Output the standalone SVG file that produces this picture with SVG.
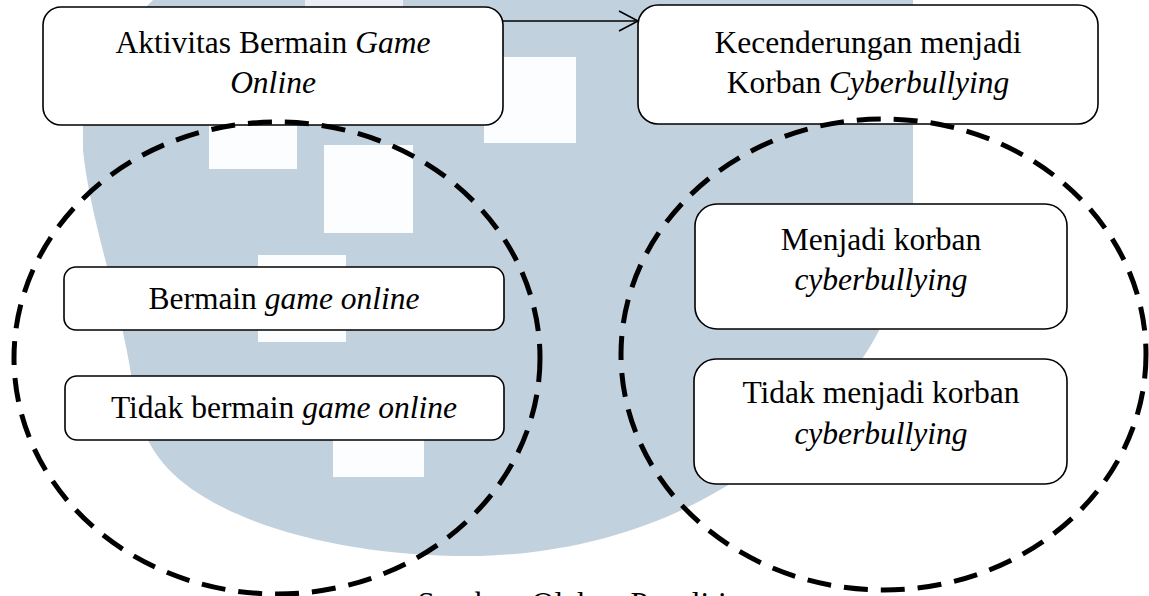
<svg xmlns="http://www.w3.org/2000/svg" width="1149" height="596" viewBox="0 0 1149 596">
  <style>
    .box { fill: #ffffff; stroke: #000000; stroke-width: 1.6; }
    .lbl { font-family: "Liberation Serif", "Times New Roman", serif; font-size: 31.5px; fill: #000000; text-anchor: middle; }
    .it { font-style: italic; }
    .ring { fill: none; stroke: #000000; stroke-width: 5; stroke-dasharray: 24 13; }
    .mark { fill: #c2d1de; }
    .pix { fill: #fcfdfe; }
    .link { fill: none; stroke: #000000; stroke-width: 1.6; }
  </style>
  <defs>
    <marker id="openArrow" markerUnits="userSpaceOnUse" viewBox="0 0 22 22" refX="20" refY="11" markerWidth="22" markerHeight="22" orient="auto">
      <path d="M1,1 L20,11 L1,21" fill="none" stroke="#000000" stroke-width="1.6"/>
    </marker>
  </defs>

  <rect width="1149" height="596" fill="#ffffff"/>

  <!-- background emblem -->
  <g id="emblem">
    <path class="mark" d="M153 0 L913 0 L913 205 C910 290 870 370 790 440 C720 500 620 552 480 556 C360 558 240 530 180 480 C145 450 138 420 132 380 C120 300 90 220 83 150 L83 70 Z"/>
    <rect x="305" y="0" width="98" height="8" fill="#e9eff4"/>
    <rect class="pix" x="484" y="57" width="92" height="86"/>
    <rect class="pix" x="209" y="118" width="88" height="51"/>
    <rect class="pix" x="324" y="145" width="89" height="88"/>
    <rect class="pix" x="258" y="255" width="88" height="87"/>
    <rect class="pix" x="333" y="430" width="91" height="47"/>
  </g>

  <!-- top-level nodes -->
  <g id="node-aktivitas">
    <rect class="box" x="43" y="7" width="460" height="118" rx="18"/>
    <text class="lbl" x="273" y="53">Aktivitas Bermain <tspan class="it">Game</tspan></text>
    <text class="lbl it" x="273" y="93">Online</text>
  </g>
  <g id="node-kecenderungan">
    <rect class="box" x="638" y="5" width="460" height="119" rx="20"/>
    <text class="lbl" x="868" y="53">Kecenderungan menjadi</text>
    <text class="lbl" x="868" y="93">Korban <tspan class="it">Cyberbullying</tspan></text>
  </g>

  <!-- connectors -->
  <g id="connectors">
    <line class="link" x1="503" y1="21" x2="638" y2="21" marker-end="url(#openArrow)"/>
  </g>

  <!-- dashed groupings -->
  <g id="group-aktivitas">
    <ellipse class="ring" cx="277" cy="358" rx="263" ry="236"/>
  </g>
  <g id="group-korban">
    <ellipse class="ring" cx="883.5" cy="354.5" rx="262.5" ry="235.5"/>
  </g>

  <!-- category nodes -->
  <g id="node-bermain">
    <rect class="box" x="64" y="267" width="440" height="63" rx="12"/>
    <text class="lbl" x="284" y="309">Bermain <tspan class="it">game online</tspan></text>
  </g>
  <g id="node-tidak-bermain">
    <rect class="box" x="65" y="376" width="439" height="64" rx="12"/>
    <text class="lbl" x="284" y="418">Tidak bermain <tspan class="it">game online</tspan></text>
  </g>
  <g id="node-menjadi-korban">
    <rect class="box" x="695" y="204" width="372" height="125" rx="22"/>
    <text class="lbl" x="881" y="250">Menjadi korban</text>
    <text class="lbl it" x="881" y="290">cyberbullying</text>
  </g>
  <g id="node-tidak-menjadi-korban">
    <rect class="box" x="694" y="359" width="373" height="125" rx="22"/>
    <text class="lbl" x="881" y="403">Tidak menjadi korban</text>
    <text class="lbl it" x="881" y="444">cyberbullying</text>
  </g>

  <!-- source line, mostly below the lower edge -->
  <text class="lbl" x="572" y="614">Sumber: Olahan Peneliti</text>
</svg>
